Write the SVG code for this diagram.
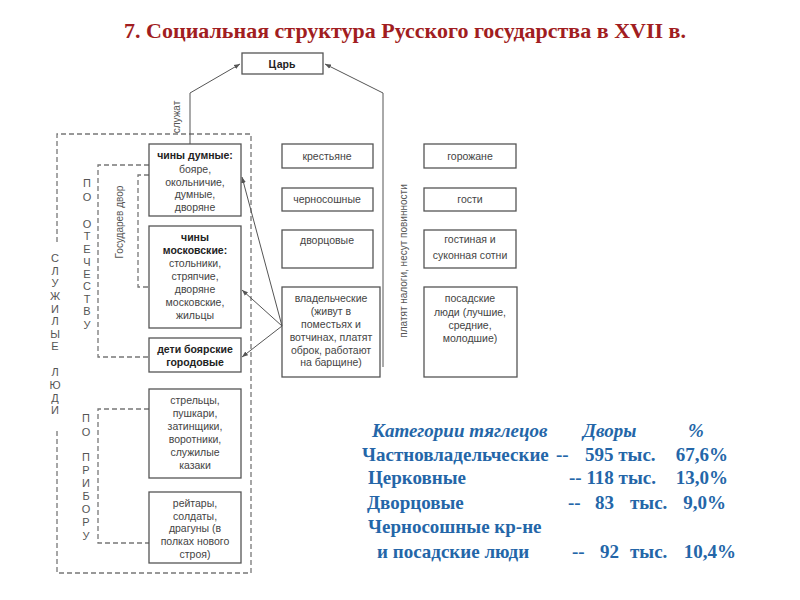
<svg xmlns="http://www.w3.org/2000/svg" width="800" height="600" viewBox="0 0 800 600">
<defs>
<marker id="arr" viewBox="0 0 10 10" refX="10" refY="5" markerWidth="6" markerHeight="6" orient="auto-start-reverse" markerUnits="userSpaceOnUse">
<path d="M0,1 L10,5 L0,9 z" fill="#555"/>
</marker>
<style>
.box{fill:#fff;stroke:#555;stroke-width:1.3}
.dash{fill:none;stroke:#777;stroke-width:1.3;stroke-dasharray:5,3}
.conn{fill:none;stroke:#555;stroke-width:1}
.t{font-family:"Liberation Sans",Arial,sans-serif;font-size:10.5px;fill:#444;text-anchor:middle}
.b{font-weight:bold;fill:#222}
.v{font-family:"Liberation Sans",Arial,sans-serif;font-size:11px;fill:#555;text-anchor:middle}
.r{font-family:"Liberation Sans",Arial,sans-serif;font-size:10px;fill:#555;text-anchor:middle}
.title{font-family:"Liberation Serif","Times New Roman",serif;font-size:22px;font-weight:bold;fill:#a11d21;text-anchor:middle}
.tab{font-family:"Liberation Serif","Times New Roman",serif;font-size:19px;font-weight:bold;fill:#2466a8}
.hd{font-style:italic}
</style>
</defs>

<text class="title" x="405" y="38">7. Социальная структура Русского государства в XVII в.</text>

<g id="groups">
<path class="dash" d="M57,242 V134 H251 V573 H57 V428"/>
<path class="dash" d="M149,165 H98 V357 H149"/>
<path class="dash" d="M149,175 H138 V287 H149"/>
<path class="dash" d="M149,409 H98 V543 H149"/>
<g class="v">
<text x="55" y="262">С</text><text x="55" y="275">Л</text><text x="55" y="287">У</text><text x="55" y="300">Ж</text><text x="55" y="313">И</text><text x="55" y="325">Л</text><text x="55" y="338">Ы</text><text x="55" y="350">Е</text>
<text x="55" y="376">Л</text><text x="55" y="389">Ю</text><text x="55" y="402">Д</text><text x="55" y="414">И</text>
<text x="87" y="187">П</text><text x="87" y="201">О</text>
<text x="87" y="228">О</text><text x="87" y="240">Т</text><text x="87" y="253">Е</text><text x="87" y="266">Ч</text><text x="87" y="278">Е</text><text x="87" y="290">С</text><text x="87" y="303">Т</text><text x="87" y="315">В</text><text x="87" y="329">У</text>
<text x="86" y="422">П</text><text x="86" y="436">О</text>
<text x="86" y="461">П</text><text x="86" y="474">Р</text><text x="86" y="487">И</text><text x="86" y="500">Б</text><text x="86" y="513">О</text><text x="86" y="526">Р</text><text x="86" y="540">У</text>
</g>
<text class="r" transform="translate(123,222) rotate(-90)">Государев двор</text>
</g>

<g id="tsar"><rect class="box" x="242" y="53" width="81" height="21"/><text class="t b" x="282" y="68">Царь</text></g>

<g id="chiny-dumnye"><rect class="box" x="149" y="144" width="92" height="72"/>
<text class="t" x="195" y="159"><tspan class="b">чины думные:</tspan><tspan x="195" dy="13.5">бояре,</tspan><tspan x="195" dy="13">окольничие,</tspan><tspan x="195" dy="12.5">думные,</tspan><tspan x="195" dy="12.5">дворяне</tspan></text></g>

<g id="chiny-moskovskie"><rect class="box" x="149" y="226" width="92" height="102"/>
<text class="t" x="195" y="241"><tspan class="b">чины</tspan><tspan class="b" x="195" dy="13">московские:</tspan><tspan x="195" dy="13">стольники,</tspan><tspan x="195" dy="13">стряпчие,</tspan><tspan x="195" dy="12.5">дворяне</tspan><tspan x="195" dy="13.5">московские,</tspan><tspan x="195" dy="13">жильцы</tspan></text></g>

<g id="deti-boyarskie"><rect class="box" x="149" y="338" width="92" height="34"/>
<text class="t b" x="195" y="353">дети боярские<tspan x="195" dy="12.5">городовые</tspan></text></g>

<g id="streltsy"><rect class="box" x="149" y="389" width="92" height="89"/>
<text class="t" x="195" y="404">стрельцы,<tspan x="195" dy="13">пушкари,</tspan><tspan x="195" dy="13">затинщики,</tspan><tspan x="195" dy="13">воротники,</tspan><tspan x="195" dy="13">служилые</tspan><tspan x="195" dy="13">казаки</tspan></text></g>

<g id="reytary"><rect class="box" x="149" y="492" width="92" height="71"/>
<text class="t" x="195" y="507">рейтары,<tspan x="195" dy="12.5">солдаты,</tspan><tspan x="195" dy="12.5">драгуны (в</tspan><tspan x="195" dy="13">полках нового</tspan><tspan x="195" dy="12.5">строя)</tspan></text></g>

<g id="krestyane"><rect class="box" x="282" y="144" width="91" height="24"/><text class="t" x="327" y="160">крестьяне</text></g>
<g id="chernososhnye"><rect class="box" x="282" y="188" width="91" height="23"/><text class="t" x="327" y="203">черносошные</text></g>
<g id="dvortsovye"><rect class="box" x="282" y="230" width="91" height="38"/><text class="t" x="327" y="244">дворцовые</text></g>
<g id="vladelcheskie"><rect class="box" x="282" y="287" width="98" height="90"/>
<text class="t" x="331" y="302">владельческие<tspan x="331" dy="13">(живут в</tspan><tspan x="331" dy="13">поместьях и</tspan><tspan x="331" dy="13">вотчинах, платят</tspan><tspan x="331" dy="12.5">оброк, работают</tspan><tspan x="331" dy="12.5">на барщине)</tspan></text></g>

<g id="gorozhane"><rect class="box" x="424" y="144" width="92" height="24"/><text class="t" x="470" y="160">горожане</text></g>
<g id="gosti"><rect class="box" x="424" y="188" width="92" height="23"/><text class="t" x="470" y="203">гости</text></g>
<g id="gostinaya"><rect class="box" x="424" y="230" width="92" height="38"/><text class="t" x="470" y="243">гостиная и<tspan x="470" dy="16">суконная сотни</tspan></text></g>
<g id="posadskie"><rect class="box" x="424" y="287" width="93" height="90"/>
<text class="t" x="470" y="302">посадские<tspan x="470" dy="13.5">люди (лучшие,</tspan><tspan x="470" dy="13">средние,</tspan><tspan x="470" dy="13">молодшие)</tspan></text></g>

<g id="connectors">
<path class="conn" d="M190,144 V93 L240,64" marker-end="url(#arr)"/>
<path class="conn" d="M383,367 V93 L325,64" marker-end="url(#arr)"/>
<line class="conn" x1="282" y1="326" x2="242" y2="177" marker-end="url(#arr)"/>
<line class="conn" x1="282" y1="326" x2="242" y2="290" marker-end="url(#arr)"/>
<line class="conn" x1="282" y1="326" x2="242" y2="357" marker-end="url(#arr)"/>
<text class="r" transform="translate(180,117) rotate(-90)">служат</text>
<text class="r" transform="translate(407,261) rotate(-90)">платят налоги, несут повинности</text>
</g>

<g id="table" class="tab">
<text class="hd" x="372" y="437">Категории тяглецов</text>
<text class="hd" x="583" y="437">Дворы</text>
<text class="hd" x="688" y="437">%</text>
<text x="362" y="461">Частновладельческие</text><text x="556" y="461">--</text><text x="585" y="461">595 тыс.</text><text x="728" y="461" text-anchor="end">67,6%</text>
<text x="368" y="484">Церковные</text><text x="569" y="484">-- 118 тыс.</text><text x="728" y="484" text-anchor="end">13,0%</text>
<text x="367" y="509">Дворцовые</text><text x="568" y="509">--</text><text x="595" y="509">83</text><text x="630" y="509">тыс.</text><text x="726" y="509" text-anchor="end">9,0%</text>
<text x="368" y="533">Черносошные кр-не</text>
<text x="377" y="558">и посадские люди</text><text x="572" y="558">--</text><text x="600" y="558">92</text><text x="630" y="558">тыс.</text><text x="736" y="558" text-anchor="end">10,4%</text>
</g>
</svg>
